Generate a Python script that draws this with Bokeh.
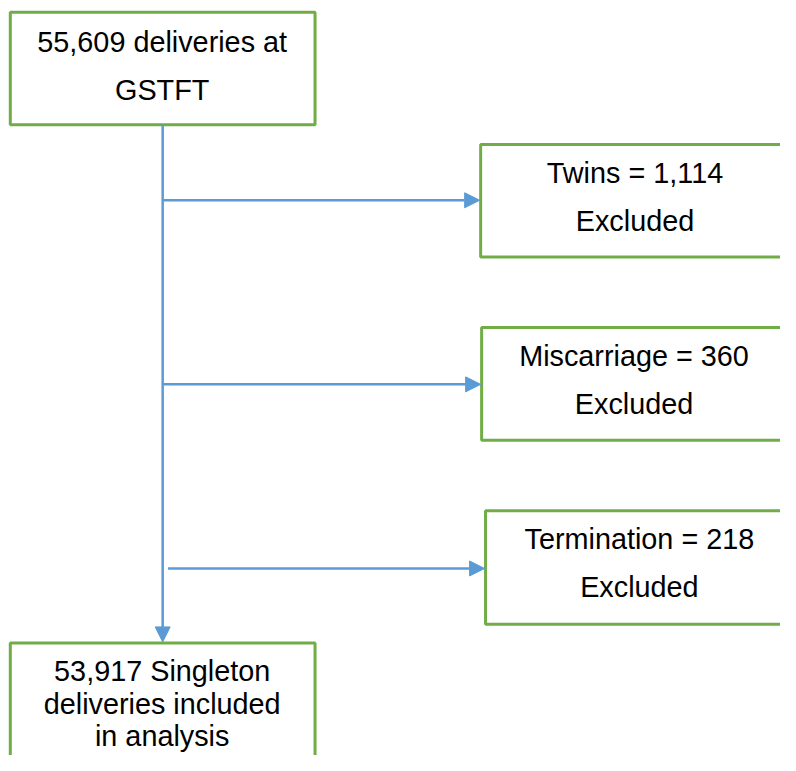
from bokeh.plotting import figure
from bokeh.models import Range1d, ColumnDataSource, Arrow, NormalHead
from bokeh.embed import file_html
from bokeh.resources import INLINE
from bokeh.core.properties import value

# ---- data ----
total_deliveries = 55609
site_name = "GSTFT"
exclusion_reasons = ["Twins", "Miscarriage", "Termination"]
exclusion_counts = [1114, 360, 218]
included_singletons = 53917

# ---- styles / layout ----
GREEN = "#70AD47"
BLUE = "#5B9BD5"
FONT = value("Liberation Sans")
FSIZE = "28.8px"

p = figure(width=780, height=755, x_range=Range1d(0, 796), y_range=Range1d(771, 0),
           output_backend="svg", toolbar_location=None, min_border=0)
p.axis.visible = False
p.grid.visible = False
p.outline_line_color = None
p.background_fill_color = "white"
p.border_fill_color = "white"

# boxes
top_box = dict(left=[10], right=[321], top=[12], bottom=[127])
excl_left = [490, 491, 495]
excl_top = [147, 334, 521]
excl_bottom = [262, 449, 637]
bottom_box = dict(left=[10], right=[321], top=[656], bottom=[800])

p.quad(left=top_box["left"], right=top_box["right"], top=top_box["top"], bottom=top_box["bottom"],
       fill_color=None, line_color=GREEN, line_width=3)
p.quad(left=excl_left, right=[820] * 3, top=excl_top, bottom=excl_bottom,
       fill_color=None, line_color=GREEN, line_width=3)
p.quad(left=bottom_box["left"], right=bottom_box["right"], top=bottom_box["top"], bottom=bottom_box["bottom"],
       fill_color=None, line_color=GREEN, line_width=3)

# arrows
vx = 165.5
head = dict(size=15, fill_color=BLUE, line_color=BLUE, line_width=1)
p.add_layout(Arrow(x_start=vx, y_start=127, x_end=vx, y_end=655,
                   line_color=BLUE, line_width=2.5, end=NormalHead(**head)))
arrow_y = [204, 392, 580]
arrow_x0 = [165, 165, 171]
for x0, y, xl in zip(arrow_x0, arrow_y, excl_left):
    p.add_layout(Arrow(x_start=x0, y_start=y, x_end=xl - 1, y_end=y,
                       line_color=BLUE, line_width=2.5, end=NormalHead(**head)))

# texts
def fmt(n):
    return f"{n:,}"

tx, ty, tt = [], [], []
# top box
tx += [165, 165]
ty += [42, 91]
tt += [f"{fmt(total_deliveries)} deliveries at", site_name]
# exclusion boxes
excl_cx = [647.5, 646.5, 652]
for cx, top, reason, cnt in zip(excl_cx, excl_top, exclusion_reasons, exclusion_counts):
    tx += [cx, cx]
    ty += [top + 29, top + 78]
    tt += [f"{reason} = {fmt(cnt)}", "Excluded"]
# bottom box
tx += [165, 165, 165]
ty += [685, 718, 751]
tt += [f"{fmt(included_singletons)} Singleton", "deliveries included", "in analysis"]

src = ColumnDataSource(dict(x=tx, y=ty, text=tt))
p.text(x="x", y="y", text="text", source=src, text_align="center", text_baseline="alphabetic",
       text_font=FONT, text_font_size=FSIZE, text_color="black")

open("out.html", "w").write(file_html(p, INLINE))
